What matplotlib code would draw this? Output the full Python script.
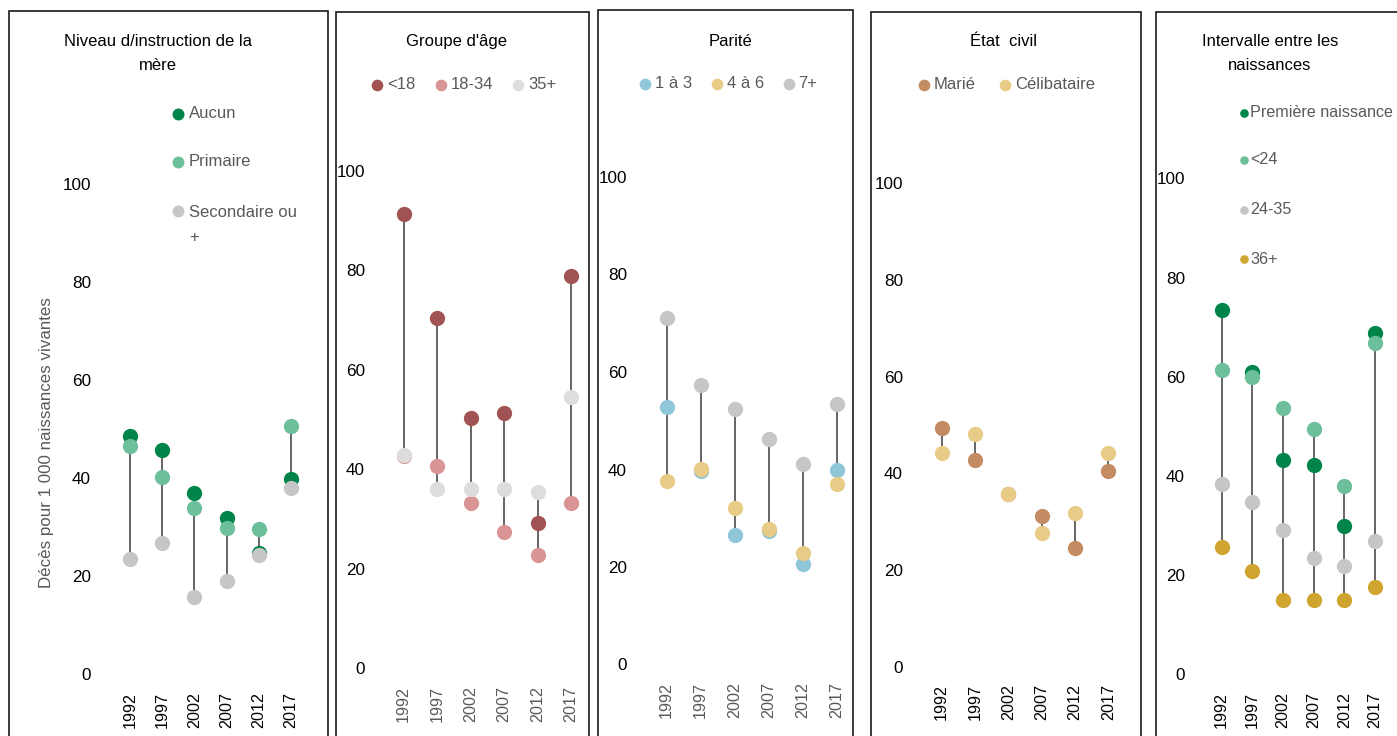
import matplotlib
matplotlib.use("Agg")
import matplotlib.pyplot as plt
import numpy as np
from matplotlib.patches import Rectangle
from matplotlib.lines import Line2D

plt.rcParams['font.family'] = ['Liberation Sans', 'DejaVu Sans']
NARROW = ['Liberation Sans Narrow', 'Liberation Sans', 'DejaVu Sans']

W, H = 1397, 736
GREY_TXT = '#595959'
LINE_C = '#595959'

years = ['1992', '1997', '2002', '2007', '2012', '2017']

# Niveau d'instruction de la mère
instr_aucun = [48.5, 45.6, 36.9, 31.8, 24.7, 39.7]
instr_primaire = [46.6, 40.2, 33.8, 29.9, 29.7, 50.5]
instr_secondaire = [23.5, 26.8, 15.8, 19.1, 24.4, 37.9]

# Groupe d'âge
age_moins18 = [91.4, 70.4, 50.4, 51.3, 29.2, 78.8]
age_18_34 = [42.6, 40.6, 33.3, 27.5, 22.7, 33.3]
age_35plus = [42.8, 36.1, 36.1, 36.1, 35.5, 54.6]

# Parité
par_1_3 = [52.9, 39.7, 26.6, 27.3, 20.7, 39.9]
par_4_6 = [37.7, 40.2, 32.1, 27.7, 22.8, 37.1]
par_7plus = [71.0, 57.3, 52.4, 46.3, 41.2, 53.4]

# État civil
civ_marie = [49.4, 42.8, 35.7, 31.3, 24.5, 40.5]
civ_celib = [44.2, 48.2, 35.7, 27.6, 31.8, 44.2]

# Intervalle entre les naissances
int_premiere = [73.4, 61.0, 43.2, 42.2, 29.9, 68.9]
int_moins24 = [61.3, 60.0, 53.7, 49.4, 37.9, 66.8]
int_24_35 = [38.3, 34.7, 29.0, 23.4, 21.8, 26.9]
int_36plus = [25.7, 20.8, 15.0, 15.0, 15.0, 17.6]

C_DKGREEN = '#00844A'
C_LTGREEN = '#6DBE9A'
C_GREY = '#C6C6C6'
C_LTGREY = '#DDDDDD'
C_DKRED = '#A15353'
C_PINK = '#D99594'
C_BLUE = '#8FC6D8'
C_YELLOW = '#E8CB86'
C_BROWN = '#C48C63'
C_GOLD = '#CFA42F'

panels = [
    dict(title="Niveau d/instruction de la\nmère", tx=158,
         x=(130, 291), y=(674.3, 183.5), lab_r=91, box=(9, 328, 11), ycol='black',
         series=[("Aucun", instr_aucun, C_DKGREEN),
                 ("Primaire", instr_primaire, C_LTGREEN),
                 ("Secondaire ou\n+", instr_secondaire, C_GREY)],
         legend=dict(kind='v', mx=178, lx=189, ys=[114, 162, 211], ms=8.6)),
    dict(title="Groupe d'âge", tx=457,
         x=(403.5, 571), y=(668.5, 170.7), lab_r=365, box=(336, 589, 12), ycol=GREY_TXT,
         series=[("<18", age_moins18, C_DKRED),
                 ("18-34", age_18_34, C_PINK),
                 ("35+", age_35plus, C_LTGREY)],
         legend=dict(kind='h', mx=[377, 441, 518], y=84.5, ms=8.4)),
    dict(title="Parité", tx=730,
         x=(666.7, 836.7), y=(664.5, 177), lab_r=627, box=(598, 853, 10), ycol=GREY_TXT,
         series=[("1 à 3", par_1_3, C_BLUE),
                 ("4 à 6", par_4_6, C_YELLOW),
                 ("7+", par_7plus, C_GREY)],
         legend=dict(kind='h', mx=[645, 716.5, 788.5], y=84, ms=8.4)),
    dict(title="État  civil", tx=1003,
         x=(941.7, 1108.3), y=(667, 183), lab_r=903, box=(871, 1141, 12), ycol='black',
         series=[("Marié", civ_marie, C_BROWN),
                 ("Célibataire", civ_celib, C_YELLOW)],
         legend=dict(kind='h', mx=[923.5, 1005], y=84.5, ms=8.4)),
    dict(title="Intervalle entre les\nnaissances", tx=1270,
         x=(1221.7, 1375), y=(674.2, 178.4), lab_r=1185, box=(1156, 1410, 12), ycol='black',
         series=[("Première naissance", int_premiere, C_DKGREEN),
                 ("<24", int_moins24, C_LTGREEN),
                 ("24-35", int_24_35, C_GREY),
                 ("36+", int_36plus, C_GOLD)],
         legend=dict(kind='v', mx=1243.5, lx=1250, ys=[112.5, 160, 209.5, 259], ms=6.2)),
]

fig = plt.figure(figsize=(W / 100, H / 100), dpi=100)


def fx(px):
    return px / W


def fy(py):
    return 1 - py / H


def legend_marker(x, y, color, ms):
    fig.add_artist(Line2D([fx(x)], [fy(y)], marker='o', ms=ms, color=color,
                          mec='none', lw=0, transform=fig.transFigure))


for p in panels:
    bl, br, bt = p['box']
    fig.add_artist(Rectangle((fx(bl), fy(760)), fx(br) - fx(bl), fy(bt) - fy(760),
                             transform=fig.transFigure, fill=False,
                             ec='#1a1a1a', lw=1.2))

    x1992, x2017 = p['x']
    sp = (x2017 - x1992) / 5
    left = x1992 - sp / 2
    right = x2017 + sp / 2
    y0, y100 = p['y']
    ax = fig.add_axes([fx(left), fy(y0), (right - left) / W, (y0 - y100) / H])
    ax.set_xlim(-0.5, 5.5)
    ax.set_ylim(0, 100)
    for s in ax.spines.values():
        s.set_visible(False)
    ax.patch.set_alpha(0)

    xs = np.arange(len(years))
    vals = np.array([s[1] for s in p['series']])
    ax.vlines(xs, vals.min(axis=0), vals.max(axis=0), color=LINE_C, lw=1.3, zorder=1)
    for i, (lab, v, c) in enumerate(p['series']):
        ax.plot(xs, v, 'o', ms=11, color=c, mec='none', zorder=2 + i, clip_on=False)

    ax.set_yticks([0, 20, 40, 60, 80, 100])
    ax.tick_params(axis='y', length=0, labelsize=12.3, pad=(left - p['lab_r']) * 0.72)
    ax.set_xticks(xs)
    ax.set_xticklabels(years, rotation=90, fontsize=11.6, family=NARROW, color=p['ycol'])
    ax.tick_params(axis='x', length=0, pad=12.5)

    fig.text(fx(p['tx']), fy(34), p['title'], ha='center', va='top', fontsize=12,
             color='black', linespacing=1.75)

    lg = p['legend']
    if lg['kind'] == 'v':
        for (lab, v, c), yy in zip(p['series'], lg['ys']):
            legend_marker(lg['mx'], yy, c, lg['ms'])
            if '\n' in lab:
                fig.text(fx(lg['lx']), fy(yy - 6), lab, ha='left', va='top',
                         fontsize=12, color=GREY_TXT, linespacing=1.8)
            else:
                fig.text(fx(lg['lx']), fy(yy), lab, ha='left', va='center',
                         fontsize=12 if lg['ms'] > 7 else 11.6, color=GREY_TXT)
    else:
        for (lab, v, c), mx in zip(p['series'], lg['mx']):
            legend_marker(mx, lg['y'], c, lg['ms'])
            fig.text(fx(mx + 10), fy(lg['y']), lab, ha='left', va='center', fontsize=12,
                     color=GREY_TXT)

fig.text(fx(47), fy(443), "Décès pour 1 000 naissances vivantes", rotation=90,
         ha='center', va='center', fontsize=12.2, family=NARROW, color=GREY_TXT)

fig.savefig("out.png", dpi=100)
